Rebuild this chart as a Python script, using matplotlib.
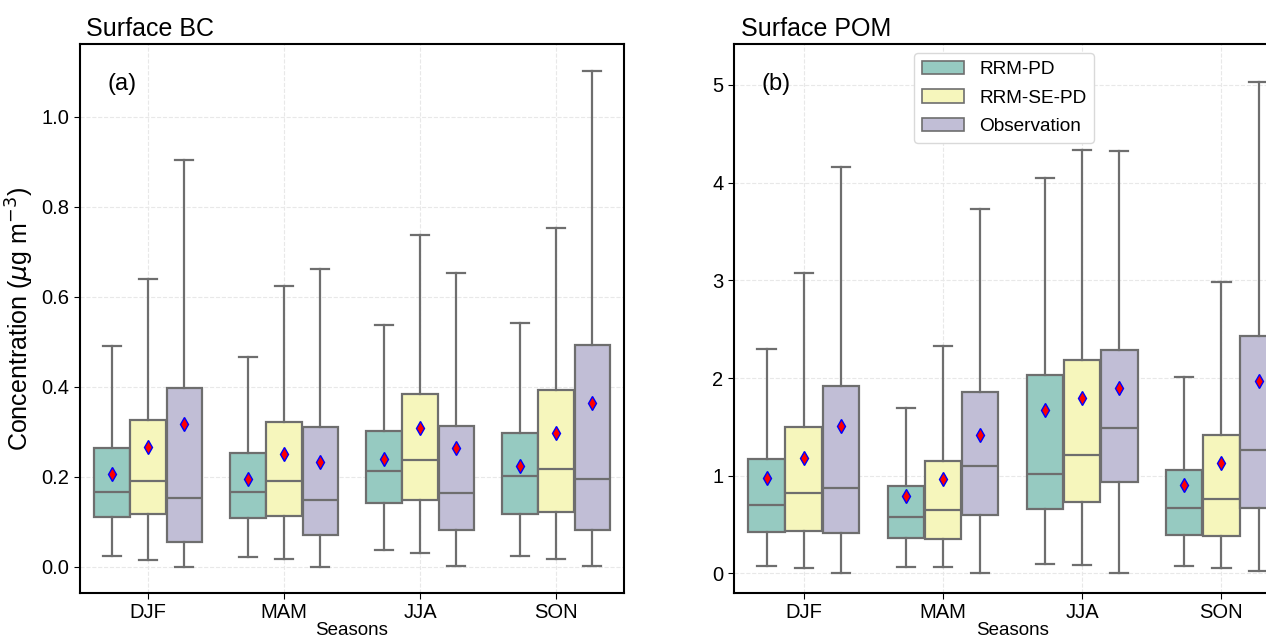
import matplotlib.pyplot as plt
import numpy as np

plt.rcParams['font.family'] = ['Liberation Sans', 'DejaVu Sans']
plt.rcParams['mathtext.fontset'] = 'dejavusans'

seasons = ["DJF", "MAM", "JJA", "SON"]
groups = ["RRM-PD", "RRM-SE-PD", "Observation"]
colors = ["#96cac1", "#f6f6bc", "#c1bed6"]

# rows: RRM-PD, RRM-SE-PD, Observation ; columns: DJF, MAM, JJA, SON
bc_lo = [[0.024, 0.022, 0.038, 0.025],
         [0.016, 0.018, 0.030, 0.017],
         [0.000, 0.000, 0.002, 0.001]]
bc_q1 = [[0.110, 0.109, 0.143, 0.117],
         [0.118, 0.114, 0.148, 0.122],
         [0.055, 0.070, 0.082, 0.083]]
bc_med = [[0.166, 0.167, 0.213, 0.201],
          [0.191, 0.190, 0.237, 0.217],
          [0.153, 0.149, 0.165, 0.196]]
bc_q3 = [[0.265, 0.252, 0.301, 0.297],
         [0.327, 0.321, 0.384, 0.394],
         [0.397, 0.310, 0.314, 0.492]]
bc_hi = [[0.491, 0.467, 0.537, 0.541],
         [0.639, 0.625, 0.737, 0.753],
         [0.903, 0.663, 0.653, 1.102]]
bc_mean = [[0.207, 0.195, 0.240, 0.225],
           [0.266, 0.250, 0.308, 0.297],
           [0.317, 0.233, 0.264, 0.365]]

pom_lo = [[0.075, 0.071, 0.092, 0.075],
          [0.059, 0.063, 0.088, 0.054],
          [0.004, 0.000, 0.000, 0.029]]
pom_q1 = [[0.426, 0.364, 0.656, 0.389],
          [0.439, 0.351, 0.732, 0.380],
          [0.410, 0.598, 0.932, 0.673]]
pom_med = [[0.698, 0.581, 1.020, 0.669],
           [0.824, 0.648, 1.208, 0.761],
           [0.878, 1.095, 1.488, 1.263]]
pom_q3 = [[1.175, 0.895, 2.028, 1.062],
          [1.501, 1.150, 2.186, 1.421],
          [1.915, 1.860, 2.287, 2.433]]
pom_hi = [[2.295, 1.689, 4.051, 2.011],
          [3.073, 2.324, 4.339, 2.985],
          [4.156, 3.733, 4.319, 5.025]]
pom_mean = [[0.974, 0.794, 1.672, 0.907],
            [1.179, 0.962, 1.798, 1.129],
            [1.509, 1.421, 1.902, 1.973]]


def draw_boxes(ax, lo, q1, med, q3, hi, mean):
    line_c = "#6e6e6e"
    w = 0.8 / 3
    for j in range(3):
        stats = []
        for i in range(4):
            stats.append(dict(whislo=lo[j][i], q1=q1[j][i], med=med[j][i],
                              q3=q3[j][i], whishi=hi[j][i], mean=mean[j][i]))
        pos = np.arange(4) + (j - 1) * w
        ax.bxp(stats, positions=pos, widths=w * 0.98, showfliers=False,
               showmeans=True, patch_artist=True, manage_ticks=False,
               boxprops=dict(facecolor=colors[j], edgecolor=line_c, linewidth=1.6),
               medianprops=dict(color=line_c, linewidth=1.6),
               whiskerprops=dict(color=line_c, linewidth=1.6),
               capprops=dict(color=line_c, linewidth=1.6),
               meanprops=dict(marker='d', markerfacecolor='red',
                              markeredgecolor='blue', markersize=7.5,
                              markeredgewidth=1))
    ax.set_xticks(range(4))
    ax.set_xticklabels(seasons)
    ax.set_xlim(-0.5, 3.5)
    ax.grid(True, color="#e8e8e8", linestyle="--", linewidth=0.8)
    ax.set_axisbelow(True)
    ax.tick_params(labelsize=14.5, length=4)
    ax.set_xlabel("Seasons", fontsize=13.5, labelpad=0)
    for s in ax.spines.values():
        s.set_linewidth(1.5)


fig = plt.figure(figsize=(12.66, 6.4), dpi=100)
ax1 = fig.add_axes([0.0632, 0.0734, 0.4297, 0.858])
ax2 = fig.add_axes([0.5798, 0.0734, 0.44, 0.858])

draw_boxes(ax1, bc_lo, bc_q1, bc_med, bc_q3, bc_hi, bc_mean)
ax1.set_ylim(-0.058, 1.162)
ax1.set_yticks([0.0, 0.2, 0.4, 0.6, 0.8, 1.0])
ax1.set_title("Surface BC", loc="left", x=0.011, fontsize=18)
ax1.set_ylabel(r"Concentration ($\mu$g m$^{-3}$)", fontsize=18)
ax1.text(0.05, 0.927, "(a)", transform=ax1.transAxes, fontsize=17, va="center")

draw_boxes(ax2, pom_lo, pom_q1, pom_med, pom_q3, pom_hi, pom_mean)
ax2.set_ylim(-0.2, 5.42)
ax2.set_yticks([0, 1, 2, 3, 4, 5])
ax2.set_title("Surface POM", loc="left", x=0.0126, fontsize=18)
ax2.text(0.05, 0.927, "(b)", transform=ax2.transAxes, fontsize=17, va="center")

handles = [plt.Rectangle((0, 0), 1, 1, facecolor=c, edgecolor="#6e6e6e", linewidth=1.2)
           for c in colors]
ax2.legend(handles, groups, loc="upper center", bbox_to_anchor=(0.485, 1.0),
           fontsize=13.7, handlelength=2.2, labelspacing=0.58,
           framealpha=1, edgecolor="#d9d9d9")

fig.savefig("out.png", dpi=100)
